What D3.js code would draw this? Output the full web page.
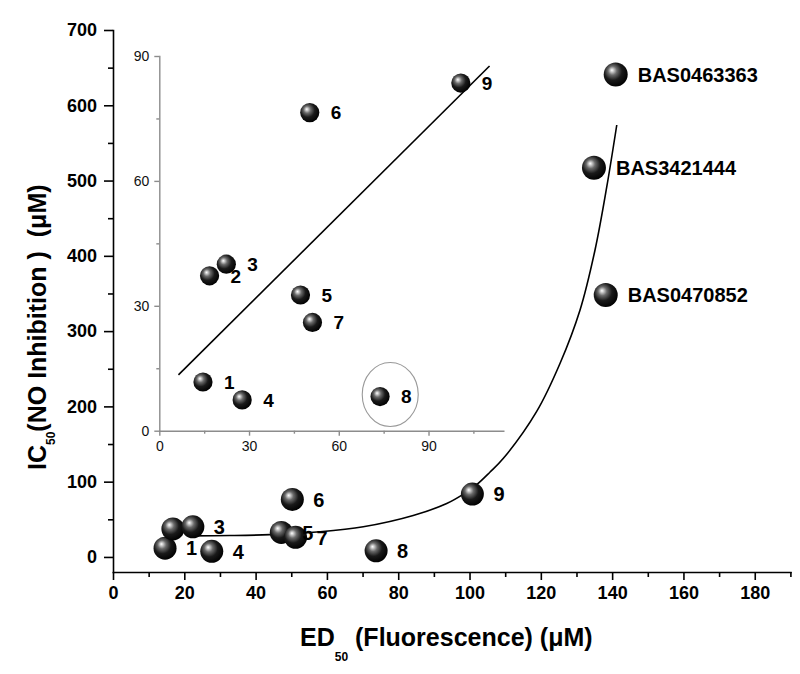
<!DOCTYPE html>
<html>
<head>
<meta charset="utf-8">
<script src="https://cdn.jsdelivr.net/npm/d3@7"></script>
<style>
  body { margin: 0; background: #fff; }
  svg { display: block; font-family: "Liberation Sans", Arial, sans-serif; }
</style>
</head>
<body>
<div class="chart"></div>
<script>
// compounds 1-9 (same values in the main plot and the inset)
const compounds = ["1", "2", "3", "4", "5", "6", "7", "8", "9"];
const ed50 = [14.6, 16.8, 22.4, 27.7, 47.2, 50.3, 51.2, 73.8, 100.8];
const ic50 = [11.7, 37.2, 40.0, 7.4, 32.6, 76.4, 26.0, 8.2, 83.5];
const mainLabels = ["1", "", "3", "4", "5", "6", "7", "8", "9"];

// reference compounds
const basNames = ["BAS0463363", "BAS3421444", "BAS0470852"];
const basEd50 = [141.0, 134.9, 138.2];
const basIc50 = [641, 517, 348];

// fitted curve in the main plot
const curveEd50 = [21.6, 32.8, 44.0, 58.1, 70.2, 84.2, 93.6, 98.3, 102.0, 105.7, 109.5, 118.8, 125.4, 131.0, 135.2, 138.5, 141.3];
const curveIc50 = [28.0, 28.4, 29.6, 33.4, 40.0, 55.0, 71.0, 83.5, 96.0, 112.5, 131.0, 193.0, 257.3, 328.1, 407.8, 491.8, 573.8];

// linear fit in the inset
const insetFitEd50 = [6.4, 110.4];
const insetFitIc50 = [13.4, 87.6];

// circled outlier (compound 8)
const outlier = { ed50: 77.2, ic50: 8.7 };

// ticks
const xMajor = [0, 20, 40, 60, 80, 100, 120, 140, 160, 180];
const xMinor = [10, 30, 50, 70, 90, 110, 130, 150, 170, 190];
const yMajor = [0, 100, 200, 300, 400, 500, 600, 700];
const yMinor = [50, 150, 250, 350, 450, 550, 650];
const insetMajor = [0, 30, 60, 90];
const insetXMinor = [15, 45, 75, 105];
const insetYMinor = [15, 45, 75];

var width = 800, height = 674;

const svg = d3.select(".chart")
  .append("svg")
  .attr("width", width)
  .attr("height", height);

svg.append("rect").attr("width", width).attr("height", height).attr("fill", "#fff");

// sphere shading
const grad = svg.append("defs").append("radialGradient")
  .attr("id", "ball")
  .attr("cx", "0.42").attr("cy", "0.40").attr("r", "0.62")
  .attr("fx", "0.34").attr("fy", "0.32");
[[0, "#ffffff"], [0.1, "#d0d0d0"], [0.3, "#6a6a6a"], [0.6, "#1a1a1a"], [1, "#000"]].forEach(function (s) {
  grad.append("stop").attr("offset", s[0]).attr("stop-color", s[1]);
});

// main scales
var x = d3.scaleLinear().domain([0, 190]).range([113, 790.4]);
var y = d3.scaleLinear().domain([-20, 700]).range([572, 30]);

// inset scales
var ix = d3.scaleLinear().domain([0, 115]).range([159.3, 503.3]);
var iy = d3.scaleLinear().domain([0, 90]).range([430.7, 56]);

function styleAxis(g, color, lw) {
  g.selectAll("path, line").attr("stroke", color).attr("stroke-width", lw);
  g.select(".domain").attr("stroke-linecap", "square");
}

// ---------- main axes ----------
var gx = svg.append("g").attr("transform", "translate(0," + y(-20) + ")");
gx.call(d3.axisBottom(x).tickValues(xMajor).tickSize(8).tickSizeOuter(0).tickPadding(6).tickFormat(d3.format("d")));
gx.append("g").call(d3.axisBottom(x).tickValues(xMinor).tickSize(5).tickFormat("")).select(".domain").remove();
styleAxis(gx, "#000", 1.6);
gx.selectAll("text").attr("font-size", 18).attr("font-weight", "bold").attr("fill", "#000")
  .attr("font-family", "'Liberation Sans', Arial, sans-serif");

var gy = svg.append("g").attr("transform", "translate(" + x(0) + ",0)");
gy.call(d3.axisLeft(y).tickValues(yMajor).tickSize(9).tickSizeOuter(0).tickPadding(7).tickFormat(d3.format("d")));
gy.append("g").call(d3.axisLeft(y).tickValues(yMinor).tickSize(5).tickFormat("")).select(".domain").remove();
styleAxis(gy, "#000", 1.6);
gy.selectAll("text").attr("font-size", 18).attr("font-weight", "bold").attr("fill", "#000")
  .attr("font-family", "'Liberation Sans', Arial, sans-serif");

// axis titles
var xt = svg.append("text")
  .attr("x", 300).attr("y", 646)
  .attr("font-size", 25).attr("font-weight", "bold").attr("fill", "#000");
xt.append("tspan").text("ED");
xt.append("tspan").attr("font-size", 12).attr("dy", 15).text("50");
xt.append("tspan").attr("dy", -15).text("\u00a0(Fluorescence) (\u03bcM)");

var yt = svg.append("text")
  .attr("transform", "translate(46,470) rotate(-90)")
  .attr("font-size", 25).attr("font-weight", "bold").attr("fill", "#000");
yt.append("tspan").text("IC");
yt.append("tspan").attr("font-size", 12).attr("dy", 9).text("50");
yt.append("tspan").attr("dy", -9).text("(NO Inhibition )\u00a0\u00a0(\u03bcM)");

// ---------- inset axes ----------
var igx = svg.append("g").attr("transform", "translate(0," + iy(0) + ")");
igx.call(d3.axisBottom(ix).tickValues(insetMajor).tickSize(5).tickSizeOuter(0).tickPadding(5));
igx.append("g").call(d3.axisBottom(ix).tickValues(insetXMinor).tickSize(3).tickFormat("")).select(".domain").remove();
styleAxis(igx, "#8c8c8c", 1.4);
igx.selectAll("text").attr("font-size", 14).attr("fill", "#111")
  .attr("font-family", "'Liberation Sans', Arial, sans-serif");

var igy = svg.append("g").attr("transform", "translate(" + ix(0) + ",0)");
igy.call(d3.axisLeft(iy).tickValues(insetMajor).tickSize(5).tickSizeOuter(0).tickPadding(5));
igy.append("g").call(d3.axisLeft(iy).tickValues(insetYMinor).tickSize(3).tickFormat("")).select(".domain").remove();
styleAxis(igy, "#8c8c8c", 1.4);
igy.selectAll("text").attr("font-size", 14).attr("fill", "#111")
  .attr("font-family", "'Liberation Sans', Arial, sans-serif");

// ---------- lines ----------
var curveData = curveEd50.map((d, i) => [d, curveIc50[i]]);
svg.append("path")
  .datum(curveData)
  .attr("fill", "none").attr("stroke", "#000").attr("stroke-width", 1.6)
  .attr("d", d3.line().x((d) => x(d[0])).y((d) => y(d[1])).curve(d3.curveCatmullRom.alpha(0.5)));

var insetFit = insetFitEd50.map((d, i) => [d, insetFitIc50[i]]);
svg.append("path")
  .datum(insetFit)
  .attr("fill", "none").attr("stroke", "#000").attr("stroke-width", 1.6)
  .attr("d", d3.line().x((d) => ix(d[0])).y((d) => iy(d[1])));

// circle round compound 8
svg.append("ellipse")
  .attr("cx", ix(outlier.ed50)).attr("cy", iy(outlier.ic50))
  .attr("rx", 28).attr("ry", 32)
  .attr("fill", "none").attr("stroke", "#999").attr("stroke-width", 1.1);

// ---------- points ----------
var pts = compounds.map((c, i) => ({ id: c, ed: ed50[i], ic: ic50[i], main: mainLabels[i] }));
var bas = basNames.map((n, i) => ({ id: n, ed: basEd50[i], ic: basIc50[i] }));

// inset
svg.append("g").selectAll("circle")
  .data(pts).enter().append("circle")
  .attr("cx", (d) => ix(d.ed)).attr("cy", (d) => iy(d.ic))
  .attr("r", 9.6).attr("fill", "url(#ball)");

svg.append("g").selectAll("text")
  .data(pts).enter().append("text")
  .attr("x", (d) => ix(d.ed) + 21).attr("y", (d) => iy(d.ic))
  .attr("dy", "0.36em")
  .attr("font-size", 19).attr("font-weight", "bold").attr("fill", "#000")
  .text((d) => d.id);

// main
svg.append("g").selectAll("circle")
  .data(pts).enter().append("circle")
  .attr("cx", (d) => x(d.ed)).attr("cy", (d) => y(d.ic))
  .attr("r", 11.5).attr("fill", "url(#ball)");

svg.append("g").selectAll("text")
  .data(pts.filter((d) => d.main != "")).enter().append("text")
  .attr("x", (d) => x(d.ed) + 21).attr("y", (d) => y(d.ic))
  .attr("dy", "0.36em")
  .attr("font-size", 20).attr("font-weight", "bold").attr("fill", "#000")
  .text((d) => d.main);

svg.append("g").selectAll("circle")
  .data(bas).enter().append("circle")
  .attr("cx", (d) => x(d.ed)).attr("cy", (d) => y(d.ic))
  .attr("r", 12).attr("fill", "url(#ball)");

svg.append("g").selectAll("text")
  .data(bas).enter().append("text")
  .attr("x", (d) => x(d.ed) + 22).attr("y", (d) => y(d.ic))
  .attr("dy", "0.36em")
  .attr("font-size", 20).attr("font-weight", "bold").attr("fill", "#000")
  .text((d) => d.id);
</script>
</body>
</html>
